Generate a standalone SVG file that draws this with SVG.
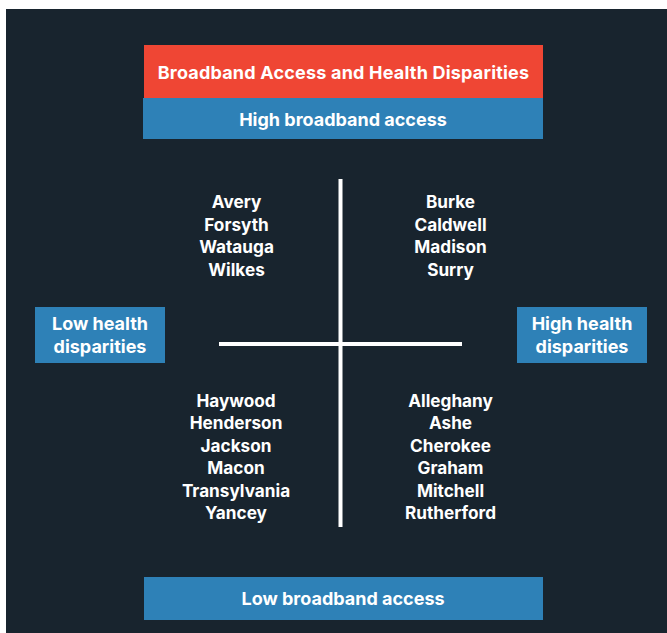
<svg xmlns="http://www.w3.org/2000/svg" width="667" height="633" viewBox="0 0 667 633">
<style>
  .t{font-family:Inter,"Noto Sans","Liberation Sans",sans-serif;font-weight:700;fill:#ffffff;text-anchor:middle;font-size:17.2px}
  .h{font-size:18px}
  .title{font-size:18px;letter-spacing:0.2px}
  .blue{fill:#2e81b7}
  .red{fill:#ef4634}
  .ln{stroke:#ffffff;stroke-width:4;fill:none}
</style>
<rect x="0" y="0" width="667" height="633" fill="#ffffff"/>
<rect x="6" y="9" width="661" height="624" fill="#18242e"/>
<g id="title">
  <rect class="red" x="144" y="45" width="399" height="53"/>
  <text class="t title" x="343.5" y="79">Broadband Access and Health Disparities</text>
</g>
<g id="high-broadband">
  <rect class="blue" x="143" y="98" width="400" height="41"/>
  <text class="t h" x="343" y="126">High broadband access</text>
</g>
<g id="low-broadband">
  <rect class="blue" x="144" y="577" width="399" height="43"/>
  <text class="t h" x="343" y="605">Low broadband access</text>
</g>
<g id="low-health">
  <rect class="blue" x="35" y="307" width="130" height="56"/>
  <text class="t h" x="100" y="329.5">Low health</text>
  <text class="t h" x="100" y="352.5">disparities</text>
</g>
<g id="high-health">
  <rect class="blue" x="517" y="307" width="130" height="56"/>
  <text class="t h" x="582" y="329.5">High health</text>
  <text class="t h" x="582" y="352.5">disparities</text>
</g>
<g id="connectors">
  <line class="ln" x1="340.5" y1="179" x2="340.5" y2="527"/>
  <line class="ln" x1="219" y1="344" x2="462" y2="344"/>
</g>
<g id="q-top-left">
  <text class="t" x="236.5" y="208">Avery</text>
  <text class="t" x="236.5" y="230.5">Forsyth</text>
  <text class="t" x="236.5" y="253">Watauga</text>
  <text class="t" x="236.5" y="275.5">Wilkes</text>
</g>
<g id="q-top-right">
  <text class="t" x="450.5" y="208">Burke</text>
  <text class="t" x="450.5" y="230.5">Caldwell</text>
  <text class="t" x="450.5" y="253">Madison</text>
  <text class="t" x="450.5" y="275.5">Surry</text>
</g>
<g id="q-bottom-left">
  <text class="t" x="236" y="406.5">Haywood</text>
  <text class="t" x="236" y="429">Henderson</text>
  <text class="t" x="236" y="451.5">Jackson</text>
  <text class="t" x="236" y="474">Macon</text>
  <text class="t" x="236" y="496.5">Transylvania</text>
  <text class="t" x="236" y="519">Yancey</text>
</g>
<g id="q-bottom-right">
  <text class="t" x="450.5" y="406.5">Alleghany</text>
  <text class="t" x="450.5" y="429">Ashe</text>
  <text class="t" x="450.5" y="451.5">Cherokee</text>
  <text class="t" x="450.5" y="474">Graham</text>
  <text class="t" x="450.5" y="496.5">Mitchell</text>
  <text class="t" x="450.5" y="519">Rutherford</text>
</g>
</svg>
